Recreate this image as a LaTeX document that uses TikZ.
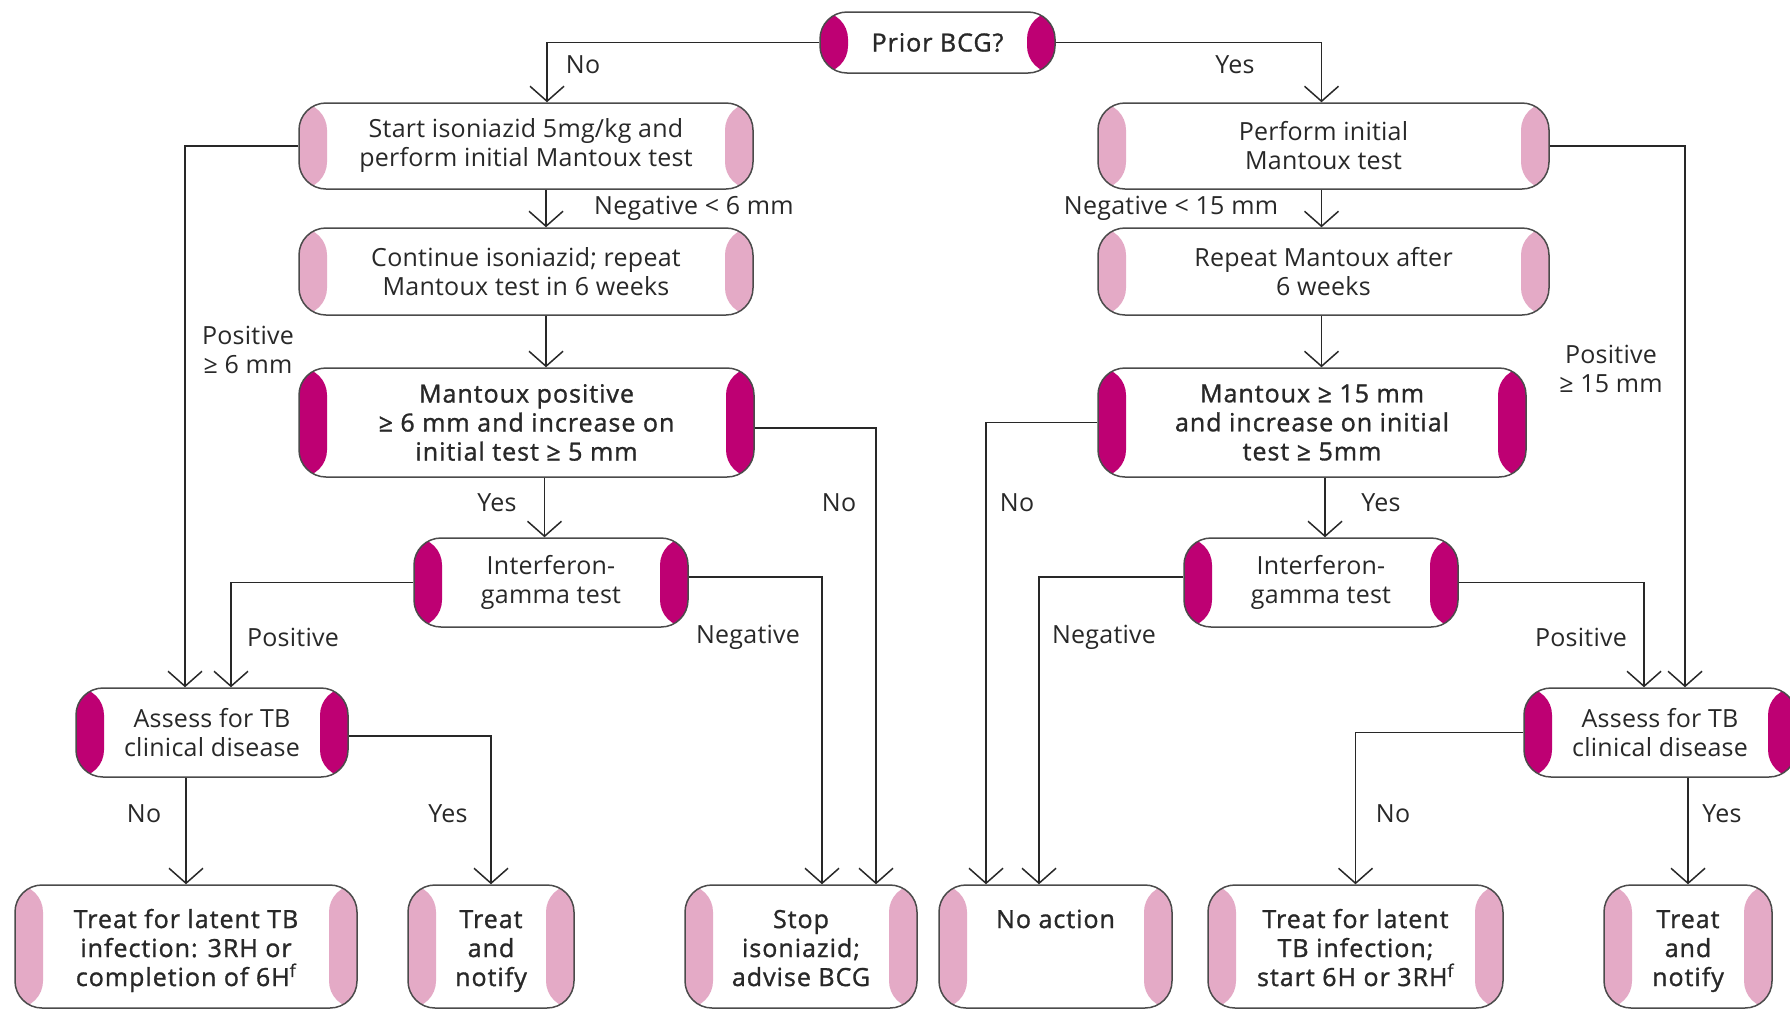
\documentclass[tikz,border=0pt]{standalone}
\usepackage{fontspec}
\setmainfont{Open Sans}[LetterSpace=1]
\newfontfamily\semib{Open Sans}[FakeBold=1.2,LetterSpace=4]
\usetikzlibrary{arrows.meta,calc}
\definecolor{deep}{RGB}{190,0,115}
\definecolor{light}{RGB}{228,170,198}
\definecolor{edgec}{RGB}{75,75,75}
\definecolor{ink}{RGB}{40,40,40}
\newcommand\toptext[2]{\parbox[c][123pt][t]{#1}{\centering\rule{0pt}{43pt}#2}}
\tikzset{
 boxbase/.style={draw=edgec, line width=1.5pt, rounded corners=27pt, inner sep=0pt,
   font=\fontsize{25}{29}\selectfont, text=ink, fill=white},
 bands/.style={path picture={
   \fill[#1] (path picture bounding box.south west) rectangle ([xshift=28pt]path picture bounding box.north west);
   \fill[#1] ([xshift=-28pt]path picture bounding box.south east) rectangle (path picture bounding box.north east);}},
 decbox/.style={boxbase, bands=deep, align=center},
 actbox/.style={boxbase, bands=light, align=center},
 botbox/.style={boxbase, bands=light, minimum height=123pt, font=\semib\fontsize{25}{29}\selectfont},
 semi/.style={font=\semib\fontsize{25}{29}\selectfont},
 conn/.style={draw=ink, line width=1.5pt, -{Straight Barb[length=15pt,width=34pt,line width=1.5pt]}},
 lbl/.style={font=\fontsize{25}{29}\selectfont, text=ink, inner sep=0pt, align=center},
}
\begin{document}
\begin{tikzpicture}[x=1pt,y=-1pt]
\path[use as bounding box] (0,0) rectangle (1790,1010);
\clip (0,0) rectangle (1790,1010);
\fill[white] (0,0) rectangle (1790,1010);

% left branch
\node[decbox, semi, minimum width=235pt, minimum height=61pt] (prior) at (937.5,42.5) {Prior BCG?};
\node[actbox, minimum width=454pt, minimum height=86pt] (start) at (526,146) {Start isoniazid 5mg/kg and\\perform initial Mantoux test};
\node[actbox, minimum width=454pt, minimum height=87pt] (cont) at (526,271.5) {Continue isoniazid; repeat\\Mantoux test in 6 weeks};
\node[decbox, semi, minimum width=455pt, minimum height=109pt] (mpos) at (526.5,422.5) {Mantoux positive\\≥ 6 mm and increase on\\initial test ≥ 5 mm};
\node[decbox, minimum width=274pt, minimum height=89pt] (ifnL) at (551,582.5) {Interferon-\\gamma test};
\node[decbox, minimum width=272pt, minimum height=89pt] (assL) at (212,732.5) {Assess for TB\\clinical disease};

% right branch
\node[actbox, minimum width=451pt, minimum height=86pt] (perf) at (1323.5,146) {Perform initial\\Mantoux test};
\node[actbox, minimum width=451pt, minimum height=87pt] (rep) at (1323.5,271.5) {Repeat Mantoux after\\6 weeks};
\node[decbox, semi, minimum width=428pt, minimum height=109pt] (m15) at (1312,422.5) {Mantoux ≥ 15 mm\\and increase on initial\\test ≥ 5mm};
\node[decbox, minimum width=274pt, minimum height=89pt] (ifnR) at (1321,582.5) {Interferon-\\gamma test};
\node[decbox, minimum width=272pt, minimum height=89pt] (assR) at (1660,732.5) {Assess for TB\\clinical disease};

% bottom row
\node[botbox, minimum width=342pt] (latL) at (186,946.5) {\toptext{320pt}{Treat for latent TB\\infection: 3RH or\\completion of 6H\textsuperscript{f}}};
\node[botbox, minimum width=166pt] (notL) at (491,946.5) {\toptext{140pt}{Treat\\and\\notify}};
\node[botbox, minimum width=232pt] (stop) at (801,946.5) {\toptext{200pt}{Stop\\isoniazid;\\advise BCG}};
\node[botbox, minimum width=233pt] (noact) at (1055.5,946.5) {\toptext{200pt}{No action}};
\node[botbox, minimum width=295pt] (latR) at (1355.5,946.5) {\toptext{270pt}{Treat for latent\\TB infection;\\start 6H or 3RH\textsuperscript{f}}};
\node[botbox, minimum width=168pt] (notR) at (1688,946.5) {\toptext{140pt}{Treat\\and\\notify}};

% connectors
\draw[conn] (prior.west) -| ([xshift=21pt]start.north);
\draw[conn] (prior.east) -| ([xshift=-2pt]perf.north);
\draw[conn] ([xshift=20pt]start.south) -- ([xshift=20pt]start.south |- cont.north);
\draw[conn] ([xshift=20pt]cont.south) -- ([xshift=20pt]cont.south |- mpos.north);
\draw[conn] ([xshift=18pt]mpos.south) -- ([xshift=18pt]mpos.south |- ifnL.north);
\draw[conn] ([xshift=-2pt]perf.south) -- ([xshift=-2pt]perf.south |- rep.north);
\draw[conn] ([xshift=-2pt]rep.south) -- ([xshift=-2pt]rep.south |- m15.north);
\draw[conn] ([xshift=13pt]m15.south) -- ([xshift=13pt]m15.south |- ifnR.north);
\draw[conn] (start.west) -| ([xshift=-27pt]assL.north);
\draw[conn] (ifnL.west) -| ([xshift=19pt]assL.north);
\draw[conn] ([yshift=-5.5pt]mpos.east) -| ([xshift=75pt]stop.north);
\draw[conn] ([yshift=5.5pt]ifnL.east) -| ([xshift=21pt]stop.north);
\draw[conn] (m15.west) -| ([xshift=-69.5pt]noact.north);
\draw[conn] ([yshift=5.5pt]ifnR.west) -| ([xshift=-16.5pt]noact.north);
\draw[conn] (ifnR.east) -| ([xshift=-16pt]assR.north);
\draw[conn] (perf.east) -| ([xshift=25pt]assR.north);
\draw[conn] (assL.south -| latL.north) -- (latL.north);
\draw[conn] ([yshift=-3.5pt]assL.east) -| (notL.north);
\draw[conn] (assR.west) -| (latR.north);
\draw[conn] (assR.south -| notR.north) -- (notR.north);

% labels
\node[lbl] (l1) at (583,65) {No};
\node[lbl] (l2) at (1235,65) {Yes};
\node[lbl, anchor=west] (l3) at (594,208) {Negative < 6 mm};
\node[lbl] (l4) at (1171,208) {Negative < 15 mm};
\node[lbl] (l5) at (248,350) {Positive\\≥ 6 mm};
\node[lbl] (l6) at (1611,369) {Positive\\≥ 15 mm};
\node[lbl] (l7) at (497,503) {Yes};
\node[lbl] (l8) at (839,503) {No};
\node[lbl] (l9) at (1017,503) {No};
\node[lbl] (l10) at (1381,503) {Yes};
\node[lbl] (l11) at (293,637) {Positive};
\node[lbl] (l12) at (748,637) {Negative};
\node[lbl] (l13) at (1104,637) {Negative};
\node[lbl] (l14) at (1581,637) {Positive};
\node[lbl] (l15) at (144,814) {No};
\node[lbl] (l16) at (448,814) {Yes};
\node[lbl] (l17) at (1393,814) {No};
\node[lbl] (l18) at (1722,814) {Yes};
\end{tikzpicture}
\end{document}
